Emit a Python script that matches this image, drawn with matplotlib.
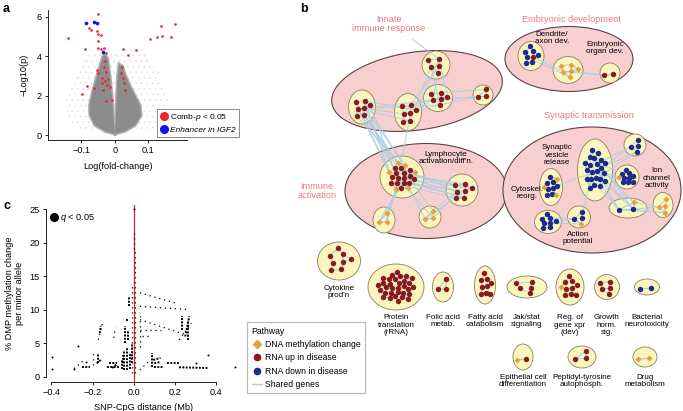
import numpy as np
import matplotlib
matplotlib.use("Agg")
import matplotlib.pyplot as plt
from matplotlib.patches import Ellipse
from matplotlib.lines import Line2D

plt.rcParams['font.family'] = ['Liberation Sans', 'DejaVu Sans']
plt.rcParams['mathtext.fontset'] = 'custom'
plt.rcParams['mathtext.it'] = 'Liberation Sans:italic'
plt.rcParams['mathtext.rm'] = 'Liberation Sans'
plt.rcParams['hatch.linewidth'] = 0.5

W, H = 683, 411

# ---------------- DATA: panel a ----------------
red_x = [-0.050, -0.078, -0.072, -0.053, -0.052, -0.042, -0.141, -0.050, 0.137, 0.179,
         0.139, 0.124, 0.104, 0.167, -0.090, -0.050, -0.042, -0.032, -0.027, 0.025,
         0.040, 0.062, -0.030, -0.032, -0.055, 0.022, 0.018, -0.050, -0.038, -0.030,
         -0.020, -0.025, -0.015, -0.040, -0.085, -0.062, 0.025, 0.030, -0.028, -0.010,
         0.027, -0.035, -0.098, -0.028]
red_y = [6.16, 5.43, 5.35, 5.26, 5.13, 5.09, 4.92, 4.76, 5.56, 5.65,
         5.05, 4.96, 4.89, 4.98, 4.37, 4.42, 4.38, 4.42, 4.16, 4.38,
         4.07, 4.33, 3.74, 3.48, 3.31, 3.48, 3.15, 3.15, 2.90, 2.76,
         2.86, 2.56, 2.45, 2.64, 2.47, 2.39, 2.89, 2.30, 1.71, 1.79,
         2.64, 2.30, 2.08, 3.20]
blue_x = [-0.088, -0.063, -0.053, -0.035]
blue_y = [5.69, 5.74, 5.69, 4.21]
# envelope of the dense grey cloud
left_arm_x = [0.0, -0.03, -0.06, -0.075, -0.076, -0.070, -0.062, -0.054, -0.045, -0.038, -0.032,
              -0.022, -0.015, -0.009, -0.005, 0.0]
left_arm_y = [0.05, 0.2, 0.5, 1.0, 1.5, 2.0, 2.5, 3.0, 3.5, 3.9, 4.1,
              3.9, 3.0, 2.0, 1.0, 0.05]
right_arm_x = [0.0, 0.03, 0.06, 0.078, 0.075, 0.060, 0.045, 0.032, 0.022, 0.012,
               0.008, 0.005, 0.003, 0.0]
right_arm_y = [0.05, 0.2, 0.5, 1.0, 1.5, 2.0, 2.5, 3.0, 3.5, 3.6,
               3.0, 2.0, 1.0, 0.05]
halo_x = [0.0, -0.10, -0.14, -0.15, -0.12, -0.08, -0.05, -0.02, 0.0, 0.03, 0.08, 0.13, 0.16, 0.15, 0.11, 0.0]
halo_y = [0.0, 0.25, 0.8, 1.8, 3.0, 4.0, 4.6, 4.4, 4.0, 4.5, 4.4, 3.2, 1.8, 0.8, 0.25, 0.0]

# ---------------- DATA: panel c ----------------
dense_x0 = [-0.045, -0.032, -0.020, -0.056, -0.042, -0.030, -0.130, -0.120, -0.172, -0.180,
            0.090, 0.100, 0.100, 0.160, 0.220, -0.250, 0.250, 0.232, -0.025, -0.010,
            -0.050, -0.038, 0.095, 0.265, -0.105, -0.165]
dense_y0 = [1.0, 1.0, 1.2, 1.2, 5.0, 5.5, 1.5, 2.0, 2.0, 2.0,
            1.5, 1.5, 2.0, 2.0, 1.4, 1.4, 6.0, 7.0, 10.5, 2.0,
            2.0, 8.5, 2.5, 5.5, 1.3, 6.5]
dense_x1 = [-0.045, -0.032, -0.020, -0.056, -0.042, -0.030, -0.070, -0.080, -0.172, -0.160,
            0.090, 0.140, 0.130, 0.220, 0.360, -0.210, 0.270, 0.232, -0.025, -0.010,
            -0.050, -0.025, 0.130, 0.265, -0.085, -0.160]
dense_y1 = [4.0, 4.5, 3.5, 2.5, 7.5, 7.0, 1.5, 2.0, 3.5, 2.5,
            3.5, 1.5, 2.2, 2.0, 1.3, 1.4, 9.0, 9.0, 12.0, 5.0,
            3.2, 8.5, 2.8, 8.5, 1.8, 7.6]
sparse_x0 = [0.004, -0.008, 0.030, 0.030, 0.030, 0.030, 0.030, -0.172, -0.096, 0.000,
             0.030, -0.200, -0.290, 0.220, 0.040]
sparse_y0 = [0.5, 0.5, 12.5, 10.5, 8.5, 7.0, 4.5, 5.5, 5.8, 19.0,
             1.0, 1.7, 1.2, 5.5, 6.0]
sparse_x1 = [0.004, -0.008, 0.200, 0.270, 0.280, 0.130, 0.030, -0.150, -0.090, 0.000,
             0.080, -0.200, -0.240, 0.280, 0.080]
sparse_y1 = [19.0, 14.0, 11.0, 10.0, 6.0, 7.0, 9.0, 8.2, 7.3, 22.0,
             2.5, 4.0, 2.5, 8.0, 6.0]
iso_x = [-0.395, -0.395, -0.270, -0.290, 0.490, 0.360, 0.300, -0.230, 0.001]
iso_y = [1.2, 3.0, 4.6, 1.2, 1.5, 3.2, 2.0, 2.2, 25.0]

# ---------------- DATA: panel b ----------------
groups = ['Innate\nimmune response', 'Embryonic development', 'Immune\nactivation', 'Synaptic transmission']
clusters = ['inn1', 'inn2', 'inn3', 'inn4', 'inn5', 'emb1', 'emb2', 'emb3',
            'act1', 'act2', 'act3', 'act4', 'syn1', 'syn2', 'syn3', 'syn4', 'syn5', 'syn6', 'syn7', 'syn8',
            'cyt', 'prot', 'folic', 'fatty', 'jak', 'reg', 'growth', 'bact', 'epi', 'pept', 'drug']
n_dna = [0, 0, 0, 0, 0, 0, 6, 0, 6, 0, 3, 3, 0, 0, 1, 3, 1, 4, 0, 1,
         0, 0, 0, 0, 0, 1, 0, 0, 1, 0, 2]
n_up = [5, 7, 7, 6, 3, 1, 0, 2, 15, 7, 0, 0, 0, 0, 0, 0, 0, 0, 0, 0,
        8, 32, 3, 9, 5, 9, 5, 0, 1, 3, 0]
n_down = [0, 0, 0, 0, 0, 7, 0, 0, 0, 0, 0, 0, 22, 4, 9, 8, 2, 0, 8, 3,
          0, 0, 0, 0, 0, 0, 0, 2, 0, 0, 0]
links_a = ['inn2', 'inn3', 'inn1', 'inn1', 'inn2', 'inn3', 'inn4', 'inn2', 'act1', 'act1', 'act1', 'act2',
           'emb1', 'emb2', 'syn1', 'syn1', 'syn1', 'syn5', 'syn7', 'syn8', 'syn1']
links_b = ['act1', 'act1', 'inn3', 'inn4', 'inn3', 'inn4', 'inn5', 'inn4', 'act2', 'act3', 'act4', 'act4',
           'emb2', 'emb3', 'syn2', 'syn3', 'syn5', 'syn6', 'syn8', 'syn1', 'syn4']
links_n = [12, 1, 3, 3, 3, 3, 4, 2, 10, 4, 3, 3, 2, 2, 4, 3, 8, 4, 3, 1, 1]
cluster_labels = ["Lymphocyte\nactivation/diff'n.", "Dendrite/\naxon dev.", "Embryonic\norgan dev.",
                  "Synaptic\nvesicle\nrelease", "Ion\nchannel\nactivity", "Cytoskel.\nreorg.", "Action\npotential",
                  "Cytokine\nprod'n", "Protein\ntranslation\n(rRNA)", "Folic acid\nmetab.", "Fatty acid\ncatabolism",
                  "Jak/stat\nsignaling", "Reg. of\ngene xpr\n(dev)", "Growth\nhorm.\nsig.", "Bacterial\nneurotoxicity",
                  "Epithelial cell\ndifferentiation", "Peptidyl-tyrosine\nautophosph.", "Drug\nmetabolism"]
legend_labels = ['DNA methylation change', 'RNA up in disease', 'RNA down in disease', 'Shared genes']

# ---------------- LAYOUT (pixel positions) ----------------
group_geom = [(417, 91, 172, 78, -8), (569, 59, 128, 65, 0), (426, 191, 162, 95, 0), (592, 190, 178, 126, 0)]
group_text_pos = [(389, 24), (571, 19), (317, 191), (589, 115)]
cluster_geom = {
    'inn1': (436, 65, 28, 28), 'inn2': (362, 107, 27, 34), 'inn3': (408, 112, 27, 37),
    'inn4': (438, 98, 29, 27), 'inn5': (483, 95, 20, 20),
    'emb1': (531, 56, 26, 29), 'emb2': (568, 70, 30, 27), 'emb3': (610, 73, 20, 20),
    'act1': (402, 177, 44, 42), 'act2': (462, 190, 32, 32), 'act3': (384, 220, 22, 26), 'act4': (430, 217, 22, 22),
    'syn1': (595, 170, 35, 62), 'syn2': (635, 145, 22, 22), 'syn3': (627, 177, 24, 24), 'syn4': (551, 187, 23, 37),
    'syn5': (628, 208, 38, 20), 'syn6': (663, 205, 20, 25), 'syn7': (548, 222, 27, 23), 'syn8': (579, 217, 23, 22),
    'cyt': (339, 261, 43, 38), 'prot': (396, 287, 56, 46), 'folic': (443, 287, 21, 30), 'fatty': (485, 285, 21, 38),
    'jak': (527, 287, 40, 22), 'reg': (570, 287, 28, 36), 'growth': (607, 287, 25, 25), 'bact': (647, 287, 25, 16),
    'epi': (523, 357, 20, 26), 'pept': (582, 357, 28, 22), 'drug': (645, 357, 24, 20)}
cluster_label_pos = [(446, 158), (552, 38), (605, 48), (557, 155), (657, 178), (527, 193), (578, 238),
                     (339, 292), (396, 325), (443, 321), (485, 321), (527, 321), (570, 325), (607, 325), (647, 321),
                     (523, 381), (582, 381), (645, 381)]

C_RED = '#8b1a1e'
C_BLUE = '#1c2a8a'
C_ORANGE = '#e3a23e'
C_EDGE = '#a9cfe2'
C_GROUP = '#ea7a7e'


def fr(l, t, r, b):
    return [l / W, 1 - b / H, (r - l) / W, (b - t) / H]


fig = plt.figure(figsize=(W / 100, H / 100), dpi=100)

# ================= panel b (drawn in pixel coordinates) =================
axb = fig.add_axes([0, 0, 1, 1])
axb.set_xlim(0, W)
axb.set_ylim(H, 0)
axb.axis('off')

for (cx, cy, w, h, ang), lab, (tx, ty) in zip(group_geom, groups, group_text_pos):
    axb.add_patch(Ellipse((cx, cy), w, h, angle=ang, fc='#f8cfcf', ec='#5e4242', lw=0.8, zorder=1))
    axb.text(tx, ty, lab, color=C_GROUP, fontsize=6.6, ha='center', va='center', linespacing=1.1)

golden = np.pi * (3 - np.sqrt(5))
node_pos = {}
for i, name in enumerate(clusters):
    cx, cy, w, h = cluster_geom[name]
    axb.add_patch(Ellipse((cx, cy), w, h, fc='#fbf5bf', ec='#8c7d5c', lw=0.6, zorder=2))
    types = ['up'] * n_up[i] + ['down'] * n_down[i] + ['dna'] * n_dna[i]
    n = len(types)
    pts = []
    for k in range(n):
        r = np.sqrt((k + 0.6) / n) * 0.68
        th = k * golden + 0.4
        pts.append((cx + r * w / 2 * np.cos(th), cy + r * h / 2 * np.sin(th)))
    pts = np.array(pts)
    node_pos[name] = (pts, types)
    kn = 3 if n > 12 else 2
    for a in range(n):
        d = np.hypot(*(pts - pts[a]).T)
        for b in np.argsort(d)[1:kn + 1]:
            axb.plot([pts[a, 0], pts[b, 0]], [pts[a, 1], pts[b, 1]], color=C_EDGE, lw=0.6, zorder=3)

for a, b, n in zip(links_a, links_b, links_n):
    pa, _ = node_pos[a]
    pb, _ = node_pos[b]
    for k in range(n):
        p1 = pa[k % len(pa)]
        p2 = pb[(2 * k + 1) % len(pb)]
        axb.plot([p1[0], p2[0]], [p1[1], p2[1]], color=C_EDGE, lw=0.7, alpha=0.9, zorder=3)
p_in = node_pos['inn1'][0][2]
axb.plot([412, p_in[0]], [39, p_in[1]], color=C_EDGE, lw=0.7, zorder=3)

for name in clusters:
    pts, types = node_pos[name]
    for (x, y), t in zip(pts, types):
        if t == 'dna':
            axb.plot(x, y, marker='D', ms=3.1, color=C_ORANGE, mec='none', zorder=5)
        else:
            axb.plot(x, y, marker='o', ms=3.9, color=C_RED if t == 'up' else C_BLUE, mec='none', zorder=5)

for lab, (tx, ty) in zip(cluster_labels, cluster_label_pos):
    axb.text(tx, ty, lab, fontsize=5.8, ha='center', va='center', linespacing=1.15, zorder=6)

handles = [Line2D([], [], marker='D', ls='', color=C_ORANGE, ms=5, mec='none'),
           Line2D([], [], marker='o', ls='', color=C_RED, ms=5.5, mec='none'),
           Line2D([], [], marker='o', ls='', color=C_BLUE, ms=5.5, mec='none'),
           Line2D([], [], color=C_EDGE, lw=1.0)]
legb = axb.legend(handles, legend_labels, title='Pathway', loc='upper left',
                  bbox_to_anchor=(243 / W, 1 - 318 / H), bbox_transform=fig.transFigure,
                  fontsize=6.2, title_fontsize=6.2, alignment='left', frameon=True, handlelength=1.2,
                  handletextpad=0.4, labelspacing=0.5, borderpad=0.5, fancybox=False)
legb.get_frame().set_edgecolor('#aaaaaa')
legb.get_frame().set_linewidth(0.9)

# ================= panel a =================
axa = fig.add_axes(fr(48, 10, 187, 140))
axa.fill(halo_x, halo_y, fc='none', ec='#e0e0e0', hatch='...', lw=0, zorder=1)
axa.fill(left_arm_x, left_arm_y, fc='#8c8c8c', ec='#b0b0b0', lw=2.2, zorder=2)
axa.fill(right_arm_x, right_arm_y, fc='#8c8c8c', ec='#b0b0b0', lw=2.2, zorder=2)
axa.fill(left_arm_x, left_arm_y, fc='#8c8c8c', ec='none', zorder=2)
axa.fill(right_arm_x, right_arm_y, fc='#8c8c8c', ec='none', zorder=2)
axa.scatter(red_x, red_y, s=3.5, c='#e8262b', lw=0, zorder=4)
axa.scatter(blue_x, blue_y, s=7, c='#1414e0', lw=0, zorder=5)
axa.set_xlim(-0.2, 0.215)
axa.set_ylim(-0.25, 6.35)
axa.set_xticks([-0.1, 0, 0.1])
axa.set_xticklabels(['\u22120.1', '0', '0.1'])
axa.set_yticks([0, 2, 4, 6])
for s in ['top', 'right']:
    axa.spines[s].set_visible(False)
for s in ['left', 'bottom']:
    axa.spines[s].set_linewidth(0.6)
axa.tick_params(labelsize=6.6, width=0.6, length=2.5, pad=2)
axa.set_xlabel('Log(fold-change)', fontsize=6.6, labelpad=5)
axa.set_ylabel('\u2212Log10(p)', fontsize=6.6, labelpad=6)
ha = [Line2D([], [], marker='o', ls='', color='#e8262b', ms=5.5),
      Line2D([], [], marker='o', ls='', color='#1414e0', ms=5.5)]
lega = axa.legend(ha, ['Comb-$p$ < 0.05', 'Enhancer in IGF2'], loc='lower left',
                  bbox_to_anchor=(153 / W, 1 - 141 / H), bbox_transform=fig.transFigure,
                  fontsize=6, frameon=True, fancybox=False, handletextpad=0.2, handlelength=1.0,
                  borderpad=0.35, labelspacing=0.35)
lega.get_texts()[1].set_style('italic')
lega.get_frame().set_edgecolor('#555555')
lega.get_frame().set_linewidth(0.6)

# ================= panel c =================
axc = fig.add_axes(fr(46, 205, 240, 382))
axc.axvline(0, color='#c8282d', lw=0.9, zorder=1)
for x0, y0, x1, y1 in zip(dense_x0, dense_y0, dense_x1, dense_y1):
    axc.plot([x0, x1], [y0, y1], color='k', lw=1.4, ls=(0, (1, 0.7)), zorder=3)
for x0, y0, x1, y1 in zip(sparse_x0, sparse_y0, sparse_x1, sparse_y1):
    axc.plot([x0, x1], [y0, y1], color='k', lw=0.9, ls=(0, (1, 3)), zorder=3)
axc.scatter(iso_x, iso_y, s=2, c='k', lw=0, zorder=3)
axc.set_xlim(-0.426, 0.516)
axc.set_ylim(-0.79, 25.6)
axc.set_xticks([-0.4, -0.2, 0.0, 0.2, 0.4])
axc.set_xticklabels(['\u22120.4', '\u22120.2', '0.0', '0.2', '0.4'])
axc.set_yticks([0, 5, 10, 15, 20, 25])
for s in ['top', 'right']:
    axc.spines[s].set_visible(False)
axc.spines['left'].set_bounds(0, 25)
axc.spines['bottom'].set_bounds(-0.4, 0.4)
for s in ['left', 'bottom']:
    axc.spines[s].set_linewidth(0.6)
axc.tick_params(labelsize=6.6, width=0.6, length=2.5, pad=2)
axc.set_xlabel('SNP-CpG distance (Mb)', fontsize=6.6, labelpad=4)
axc.set_ylabel('% DMP methylation change\nper minor allele', fontsize=6.6, labelpad=4, linespacing=1.2)
legc = axc.legend([Line2D([], [], marker='o', ls='', color='k', ms=5.5)], ['$q$ < 0.05'],
                  loc='upper left', bbox_to_anchor=(43 / W, 1 - 206 / H), bbox_transform=fig.transFigure,
                  fontsize=6.6, frameon=False, handletextpad=0.2, handlelength=1.0, borderpad=0.2)

fig.text(3 / W, 1 - 9 / H, 'a', fontsize=9, fontweight='bold', va='center')
fig.text(300 / W, 1 - 9 / H, 'b', fontsize=9, fontweight='bold', va='center')
fig.text(4 / W, 1 - 206 / H, 'c', fontsize=9, fontweight='bold', va='center')

fig.savefig('out.png', dpi=100)
